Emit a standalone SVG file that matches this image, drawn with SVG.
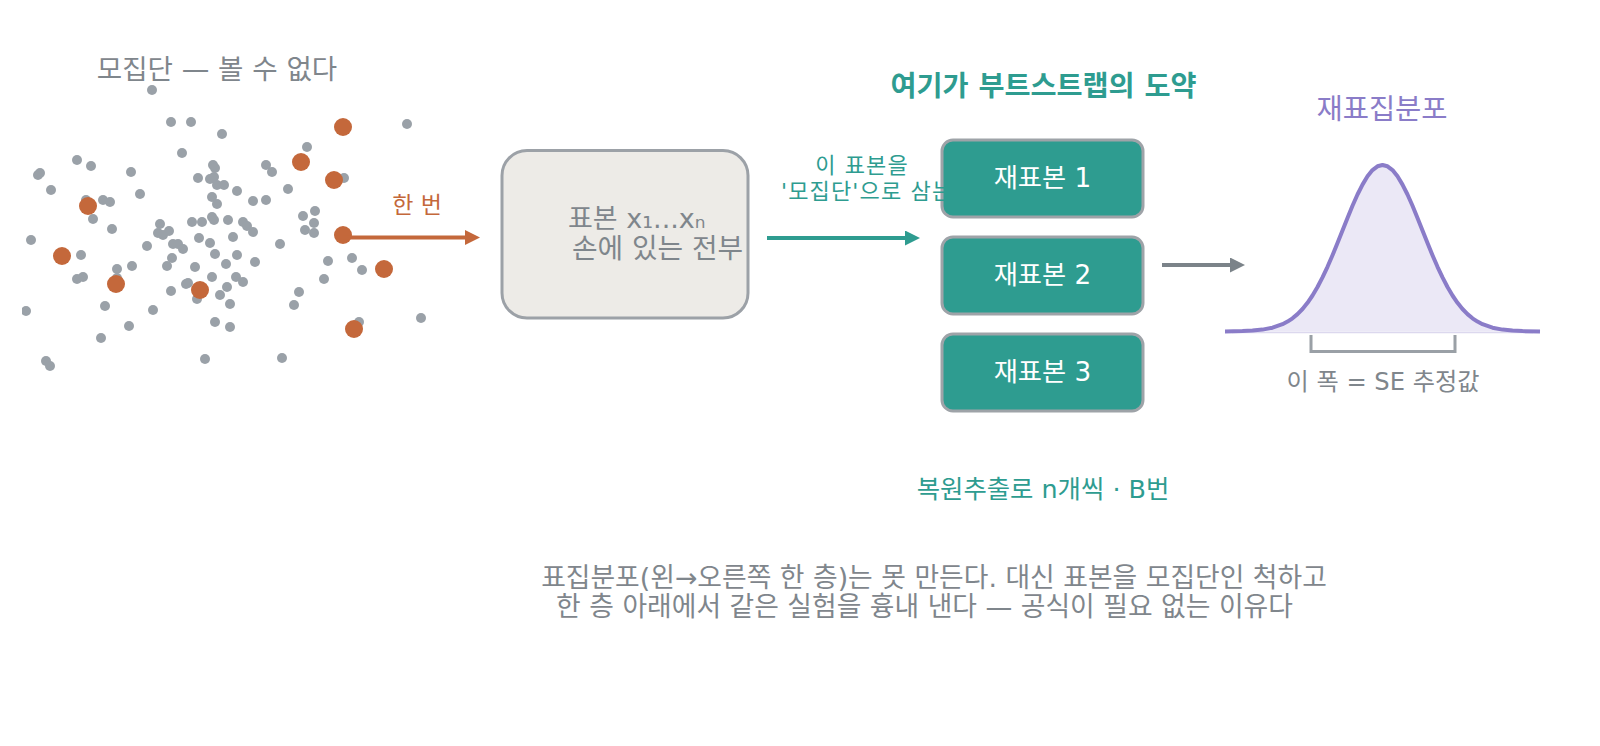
<svg xmlns="http://www.w3.org/2000/svg" width="1600" height="746" viewBox="0 0 1600 746">
<style>
text{font-family:"DejaVu Sans","Noto Sans CJK KR",sans-serif}
.g{fill:#9aa1a8}
.o{fill:#c4683b}
.gray{fill:#7f868c}
.teal{fill:#2e9c90}
.box{fill:#2e9c90;stroke:#9ea3a8;stroke-width:3}
.btxt{font-size:26.3px;fill:#ffffff;text-anchor:middle}
.conn{fill:none;stroke-width:4}
.tl{font-size:22px;letter-spacing:1.15px}
</style>
<defs>
<clipPath id="popclip"><rect x="22" y="0" width="480" height="746"/></clipPath>
<marker id="ahO" markerUnits="userSpaceOnUse" markerWidth="16" markerHeight="16" refX="2" refY="7.5" orient="auto"><path d="M0,0 L15,7.5 L0,15 z" fill="#c4683b"/></marker>
<marker id="ahT" markerUnits="userSpaceOnUse" markerWidth="16" markerHeight="16" refX="2" refY="7.5" orient="auto"><path d="M0,0 L15,7.5 L0,15 z" fill="#2e9c90"/></marker>
<marker id="ahG" markerUnits="userSpaceOnUse" markerWidth="16" markerHeight="16" refX="2" refY="7.5" orient="auto"><path d="M0,0 L15,7.5 L0,15 z" fill="#7b8389"/></marker>
</defs>
<rect width="1600" height="746" fill="#ffffff"/>

<g id="population">
<text class="gray" x="217" y="79" font-size="27.6" text-anchor="middle">모집단 — 볼 수 없다</text>
<g clip-path="url(#popclip)">
<g class="g">
<circle cx="152" cy="90" r="5"/><circle cx="171" cy="122" r="5"/><circle cx="191" cy="122" r="5"/><circle cx="222" cy="134" r="5"/>
<circle cx="182" cy="153" r="5"/><circle cx="77" cy="160" r="5"/><circle cx="91" cy="166" r="5"/><circle cx="38" cy="175" r="5"/>
<circle cx="40" cy="173" r="5"/><circle cx="131" cy="172" r="5"/><circle cx="51" cy="190" r="5"/><circle cx="140" cy="194" r="5"/>
<circle cx="103" cy="200" r="5"/><circle cx="110" cy="202" r="5"/><circle cx="86" cy="200" r="5"/><circle cx="93" cy="219" r="5"/>
<circle cx="213" cy="165" r="5"/><circle cx="215" cy="168" r="5"/><circle cx="198" cy="178" r="5"/><circle cx="210" cy="179" r="5"/>
<circle cx="214" cy="177" r="5"/><circle cx="217" cy="185" r="5"/><circle cx="224" cy="185" r="5"/><circle cx="212" cy="197" r="5"/>
<circle cx="217" cy="204" r="5"/><circle cx="237" cy="191" r="5"/><circle cx="253" cy="201" r="5"/><circle cx="266" cy="200" r="5"/>
<circle cx="288" cy="189" r="5"/><circle cx="266" cy="165" r="5"/><circle cx="272" cy="172" r="5"/><circle cx="307" cy="147" r="5"/>
<circle cx="344" cy="178" r="5"/><circle cx="407" cy="124" r="5"/><circle cx="303" cy="216" r="5"/><circle cx="315" cy="211" r="5"/>
<circle cx="314" cy="223" r="5"/><circle cx="305" cy="230" r="5"/><circle cx="314" cy="233" r="5"/><circle cx="192" cy="222" r="5"/>
<circle cx="202" cy="222" r="5"/><circle cx="212" cy="217" r="5"/><circle cx="214" cy="220" r="5"/><circle cx="228" cy="220" r="5"/>
<circle cx="243" cy="222" r="5"/><circle cx="247" cy="226" r="5"/><circle cx="253" cy="232" r="5"/><circle cx="112" cy="229" r="5"/>
<circle cx="31" cy="240" r="5"/><circle cx="160" cy="224" r="5"/><circle cx="158" cy="233" r="5"/><circle cx="163" cy="235" r="5"/>
<circle cx="169" cy="231" r="5"/><circle cx="199" cy="238" r="5"/><circle cx="210" cy="243" r="5"/><circle cx="147" cy="246" r="5"/>
<circle cx="173" cy="244" r="5"/><circle cx="178" cy="244" r="5"/><circle cx="183" cy="249" r="5"/><circle cx="233" cy="237" r="5"/>
<circle cx="280" cy="244" r="5"/><circle cx="215" cy="254" r="5"/><circle cx="81" cy="255" r="5"/><circle cx="237" cy="255" r="5"/>
<circle cx="226" cy="264" r="5"/><circle cx="255" cy="262" r="5"/><circle cx="117" cy="269" r="5"/><circle cx="132" cy="266" r="5"/>
<circle cx="172" cy="258" r="5"/><circle cx="167" cy="266" r="5"/><circle cx="195" cy="267" r="5"/><circle cx="212" cy="277" r="5"/>
<circle cx="77" cy="279" r="5"/><circle cx="83" cy="277" r="5"/><circle cx="117" cy="278" r="5"/><circle cx="186" cy="284" r="5"/>
<circle cx="188" cy="283" r="5"/><circle cx="197" cy="299" r="5"/><circle cx="171" cy="291" r="5"/><circle cx="220" cy="295" r="5"/>
<circle cx="236" cy="277" r="5"/><circle cx="243" cy="282" r="5"/><circle cx="227" cy="287" r="5"/><circle cx="230" cy="304" r="5"/>
<circle cx="328" cy="261" r="5"/><circle cx="352" cy="258" r="5"/><circle cx="362" cy="270" r="5"/><circle cx="324" cy="279" r="5"/>
<circle cx="299" cy="292" r="5"/><circle cx="294" cy="305" r="5"/><circle cx="215" cy="322" r="5"/><circle cx="230" cy="327" r="5"/>
<circle cx="359" cy="322" r="5"/><circle cx="421" cy="318" r="5"/><circle cx="282" cy="358" r="5"/><circle cx="205" cy="359" r="5"/>
<circle cx="26" cy="311" r="5"/><circle cx="105" cy="306" r="5"/><circle cx="153" cy="310" r="5"/><circle cx="129" cy="326" r="5"/>
<circle cx="101" cy="338" r="5"/><circle cx="46" cy="361" r="5"/><circle cx="50" cy="366" r="5"/>
</g>
<g class="o">
<circle cx="343" cy="127" r="9"/><circle cx="301" cy="162" r="9"/><circle cx="334" cy="180" r="9"/><circle cx="88" cy="206" r="9"/>
<circle cx="62" cy="256" r="9"/><circle cx="116" cy="284" r="9"/><circle cx="200" cy="290" r="9"/><circle cx="343" cy="235" r="9"/>
<circle cx="384" cy="269" r="9"/><circle cx="354" cy="329" r="9"/>
</g>
</g>
</g>

<g id="connectors">
<line class="conn" x1="343" y1="237.5" x2="467" y2="237.5" stroke="#c4683b" stroke-width="3.5" marker-end="url(#ahO)"/>
<text x="417" y="213" font-size="23" text-anchor="middle" fill="#c4683b">한 번</text>
<line class="conn" x1="767" y1="238" x2="907" y2="238" stroke="#2e9c90" marker-end="url(#ahT)"/>
<line class="conn" x1="1162" y1="265" x2="1232" y2="265" stroke="#7b8389" marker-end="url(#ahG)"/>
</g>

<g id="sample">
<rect x="502" y="150.5" width="246" height="167.5" rx="25" fill="#edebe7" stroke="#9ca1a7" stroke-width="3"/>
<text x="568" y="228" font-size="27" class="gray">표본 x₁...xₙ</text>
<text x="572" y="258" font-size="27.8" class="gray">손에 있는 전부</text>
</g>

<g id="leap">
<text class="teal" x="1043.5" y="96" font-size="28.3" text-anchor="middle" font-weight="bold">여기가 부트스트랩의 도약</text>
</g>

<g id="resample1">
<rect class="box" x="942" y="140" width="201" height="77" rx="11"/>
<text class="btxt" x="1042.5" y="187">재표본 1</text>
</g>
<g id="resample2">
<rect class="box" x="942" y="237" width="201" height="77" rx="11"/>
<text class="btxt" x="1042.5" y="284">재표본 2</text>
</g>
<g id="resample3">
<rect class="box" x="942" y="334" width="201" height="77" rx="11"/>
<text class="btxt" x="1042.5" y="381">재표본 3</text>
</g>

<g id="treat-label">
<text class="teal tl" x="862" y="173" text-anchor="middle">이 표본을</text>
<text class="teal tl" x="781" y="199">'모집단'으로 삼는다</text>
</g>

<g id="distribution">
<text x="1382" y="119" font-size="28.5" text-anchor="middle" fill="#8a7cc8">재표집분포</text>
<polygon fill="#ebe8f6" points="1225,331.5 1242.5,331.1 1252.5,330.6 1262.5,329.6 1272.5,327.7 1282.5,324.2 1287.5,321.6 1292.5,318.3 1297.5,314.1 1302.5,309 1307.5,302.8 1312.5,295.5 1317.5,287 1322.5,277.4 1327.5,266.8 1332.5,255.3 1337.5,243.1 1342.5,230.5 1347.5,217.9 1352.5,205.8 1357.5,194.5 1362.5,184.6 1367.5,176.3 1372.5,170.1 1377.5,166.3 1382.5,165 1387.5,166.3 1392.5,170.1 1397.5,176.3 1402.5,184.6 1407.5,194.5 1412.5,205.8 1417.5,217.9 1422.5,230.5 1427.5,243.1 1432.5,255.3 1437.5,266.8 1442.5,277.4 1447.5,287 1452.5,295.5 1457.5,302.8 1462.5,309 1467.5,314.1 1472.5,318.3 1477.5,321.6 1482.5,324.2 1492.5,327.7 1502.5,329.6 1512.5,330.6 1522.5,331.1 1540,331.5"/>
<line x1="1232" y1="332.5" x2="1533" y2="332.5" stroke="#dcd8ee" stroke-width="1.5"/>
<polyline fill="none" stroke="#8a7cc8" stroke-width="4" stroke-linejoin="round" points="1225,331.5 1242.5,331.1 1252.5,330.6 1262.5,329.6 1272.5,327.7 1282.5,324.2 1287.5,321.6 1292.5,318.3 1297.5,314.1 1302.5,309 1307.5,302.8 1312.5,295.5 1317.5,287 1322.5,277.4 1327.5,266.8 1332.5,255.3 1337.5,243.1 1342.5,230.5 1347.5,217.9 1352.5,205.8 1357.5,194.5 1362.5,184.6 1367.5,176.3 1372.5,170.1 1377.5,166.3 1382.5,165 1387.5,166.3 1392.5,170.1 1397.5,176.3 1402.5,184.6 1407.5,194.5 1412.5,205.8 1417.5,217.9 1422.5,230.5 1427.5,243.1 1432.5,255.3 1437.5,266.8 1442.5,277.4 1447.5,287 1452.5,295.5 1457.5,302.8 1462.5,309 1467.5,314.1 1472.5,318.3 1477.5,321.6 1482.5,324.2 1492.5,327.7 1502.5,329.6 1512.5,330.6 1522.5,331.1 1540,331.5"/>
<polyline fill="none" stroke="#9aa0a6" stroke-width="3" points="1311,335 1311,351.5 1455,351.5 1455,335"/>
<text class="gray" x="1383" y="390" font-size="24.2" text-anchor="middle">이 폭 = SE 추정값</text>
</g>

<g id="resample-note">
<text class="teal" x="1043" y="498" font-size="25.4" text-anchor="middle">복원추출로 n개씩 · B번</text>
</g>

<g id="caption">
<text x="934" y="587" font-size="26.8" class="gray" text-anchor="middle">표집분포(왼→오른쪽 한 층)는 못 만든다. 대신 표본을 모집단인 척하고</text>
<text x="924.5" y="616" font-size="26.8" class="gray" text-anchor="middle">한 층 아래에서 같은 실험을 흉내 낸다 — 공식이 필요 없는 이유다</text>
</g>
</svg>
